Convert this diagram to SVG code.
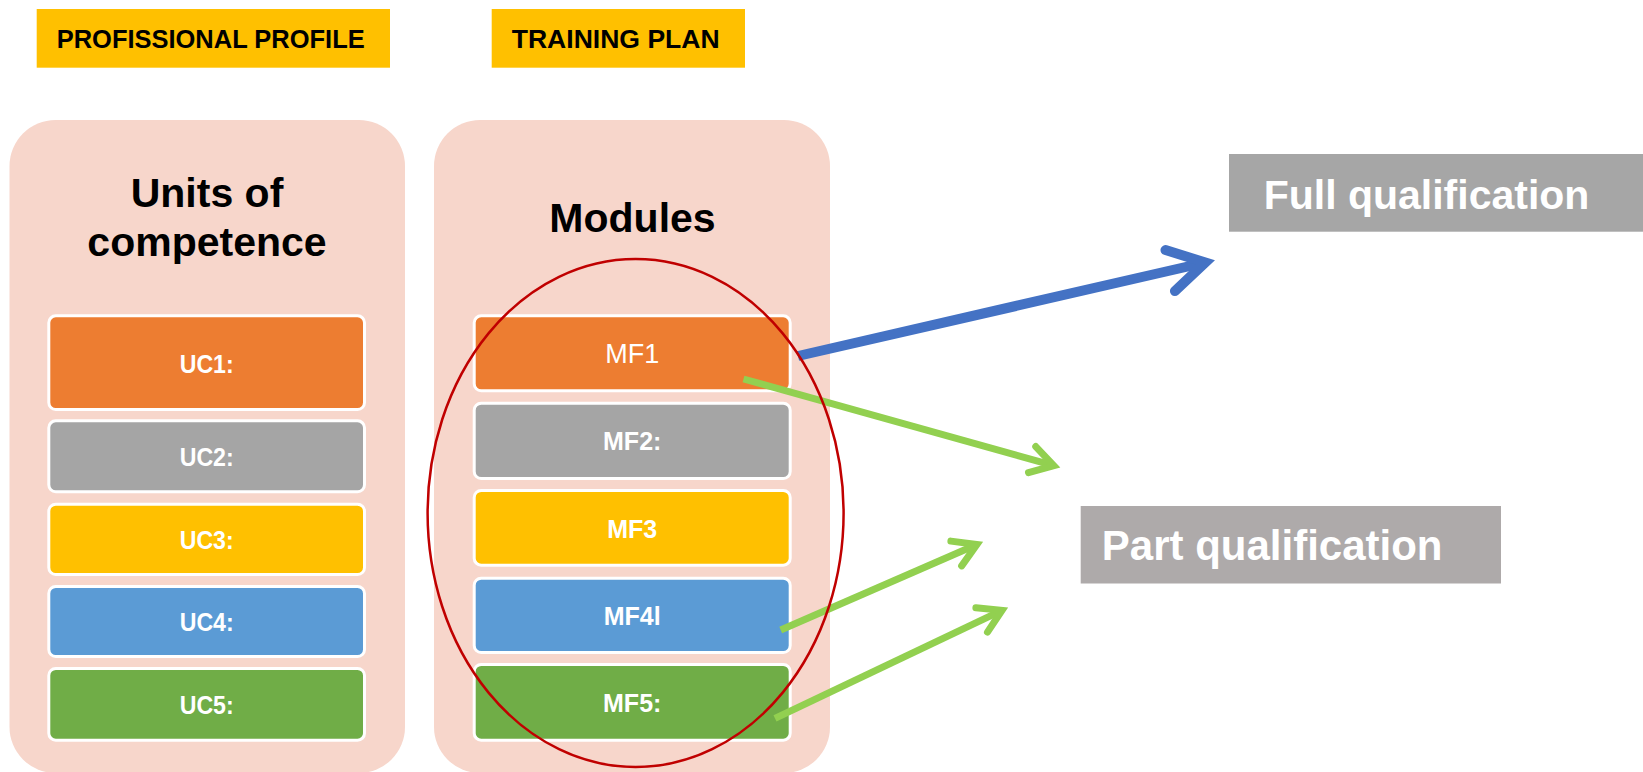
<svg xmlns="http://www.w3.org/2000/svg" width="1643" height="772" viewBox="0 0 1643 772">
<style>
.hdr{fill:#FFC000}
.hdrt{font-family:"Liberation Sans",Arial,sans-serif;font-weight:bold;font-size:26.5px;fill:#000}
.panel{fill:#F7D6CB}
.title{font-family:"Liberation Sans",Arial,sans-serif;font-weight:bold;font-size:41px;fill:#000;text-anchor:middle}
.box{stroke:#FFFFFF;stroke-width:3}
.lbl{font-family:"Liberation Sans",Arial,sans-serif;font-weight:bold;font-size:25px;fill:#FFFFFF;text-anchor:middle}
.orange{fill:#ED7D31}.gray{fill:#A5A5A5}.yellow{fill:#FFC000}.blue{fill:#5B9BD5}.green{fill:#70AD47}
.qual{font-family:"Liberation Sans",Arial,sans-serif;font-weight:bold;fill:#FFFFFF}
.ablue{fill:none;stroke:#4472C4;stroke-width:10}
.agreen{fill:none;stroke:#92D050;stroke-width:7}
</style>
<defs>
<marker id="headBlue" markerUnits="userSpaceOnUse" orient="auto" refX="0" refY="0" viewBox="-50 -30 60 60" markerWidth="60" markerHeight="60" overflow="visible">
<path d="M-36,-21 L0,0 L-36,21" fill="none" stroke="#4472C4" stroke-width="10" stroke-linecap="round" stroke-linejoin="miter"/>
</marker>
<marker id="headGreen" markerUnits="userSpaceOnUse" orient="auto" refX="0" refY="0" viewBox="-40 -25 50 50" markerWidth="50" markerHeight="50" overflow="visible">
<path d="M-22.5,-13.5 L0,0 L-22.5,13.5" fill="none" stroke="#92D050" stroke-width="7" stroke-linecap="round" stroke-linejoin="miter"/>
</marker>
</defs>
<rect width="1643" height="772" fill="#FFFFFF"/>

<g id="hdr-profile">
<rect class="hdr" x="36.7" y="9" width="353.3" height="58.7"/>
<text class="hdrt" x="56.7" y="47.7" textLength="308" lengthAdjust="spacingAndGlyphs">PROFISSIONAL PROFILE</text>
</g>
<g id="hdr-training">
<rect class="hdr" x="491.7" y="9" width="253.3" height="58.7"/>
<text class="hdrt" x="511.7" y="47.7" textLength="208" lengthAdjust="spacingAndGlyphs">TRAINING PLAN</text>
</g>

<g id="panel-units">
<rect class="panel" x="9.5" y="120" width="395.5" height="653" rx="46" ry="46"/>
<text class="title" x="207" y="206.7">Units of</text>
<text class="title" x="207" y="256">competence</text>
</g>
<g id="panel-modules">
<rect class="panel" x="434" y="120" width="396" height="653" rx="46" ry="46"/>
<text class="title" x="632.5" y="231.7">Modules</text>
</g>

<g id="uc1"><rect class="box orange" x="48.8" y="315.8" width="315.7" height="93.7" rx="7"/><text class="lbl" x="206.7" y="372.5" textLength="54" lengthAdjust="spacingAndGlyphs">UC1:</text></g>
<g id="uc2"><rect class="box gray" x="48.8" y="420.8" width="315.7" height="71" rx="7"/><text class="lbl" x="206.7" y="466" textLength="54" lengthAdjust="spacingAndGlyphs">UC2:</text></g>
<g id="uc3"><rect class="box yellow" x="48.8" y="504.2" width="315.7" height="70.3" rx="7"/><text class="lbl" x="206.7" y="549" textLength="54" lengthAdjust="spacingAndGlyphs">UC3:</text></g>
<g id="uc4"><rect class="box blue" x="48.8" y="586.5" width="315.7" height="70" rx="7"/><text class="lbl" x="206.7" y="631" textLength="54" lengthAdjust="spacingAndGlyphs">UC4:</text></g>
<g id="uc5"><rect class="box green" x="48.8" y="668.5" width="315.7" height="71.7" rx="7"/><text class="lbl" x="206.7" y="714" textLength="54" lengthAdjust="spacingAndGlyphs">UC5:</text></g>

<g id="mf1"><rect class="box orange" x="474.2" y="315.8" width="316" height="75" rx="7"/><text class="lbl" x="632.2" y="362.7" style="font-weight:normal;font-size:27px">MF1</text></g>
<g id="mf2"><rect class="box gray" x="474.2" y="403.2" width="316" height="75.3" rx="7"/><text class="lbl" x="632.2" y="450.3">MF2:</text></g>
<g id="mf3"><rect class="box yellow" x="474.2" y="490.5" width="316" height="74.7" rx="7"/><text class="lbl" x="632.2" y="537.5">MF3</text></g>
<g id="mf4"><rect class="box blue" x="474.2" y="578.2" width="316" height="74.3" rx="7"/><text class="lbl" x="632.2" y="625">MF4l</text></g>
<g id="mf5"><rect class="box green" x="474.2" y="664.5" width="316" height="75.7" rx="7"/><text class="lbl" x="632.2" y="712">MF5:</text></g>

<g id="full-qualification">
<rect x="1229" y="154" width="414" height="77.7" fill="#A6A6A6"/>
<text class="qual" x="1263.7" y="209" font-size="41">Full qualification</text>
</g>
<g id="part-qualification">
<rect x="1080.7" y="506" width="420.3" height="77.5" fill="#AEAAAA"/>
<text class="qual" x="1101.8" y="560" font-size="42">Part qualification</text>
</g>

<g id="connectors">
<line class="ablue" x1="798" y1="356" x2="1205.3" y2="262.5" marker-end="url(#headBlue)"/>
<line class="agreen" x1="743.5" y1="379" x2="1053.8" y2="465.6" marker-end="url(#headGreen)"/>
<line class="agreen" x1="780.7" y1="630" x2="976.9" y2="544.5" marker-end="url(#headGreen)"/>
<line class="agreen" x1="775" y1="718.3" x2="1002" y2="610.3" marker-end="url(#headGreen)"/>
</g>

<g id="module-ellipse">
<ellipse cx="635.6" cy="513" rx="208" ry="254" fill="none" stroke="#C00000" stroke-width="2.5"/>
</g>
</svg>
